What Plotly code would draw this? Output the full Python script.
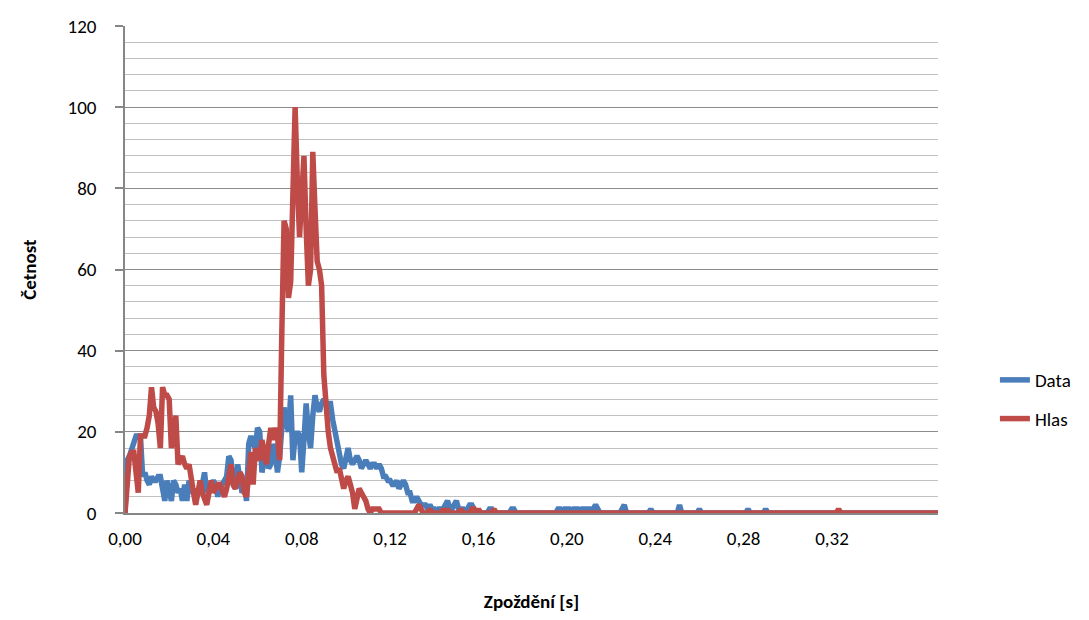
import plotly.graph_objects as go

# Delay categories: 1 ms steps, 0,000 ... 0,368 s
STEP_S = 0.001
N_POINTS = 369
delays = [round(i * STEP_S, 3) for i in range(N_POINTS)]

# Labelled x ticks
x_tick_vals = [0.00, 0.04, 0.08, 0.12, 0.16, 0.20, 0.24, 0.28, 0.32]

# Četnost – "Data"
data_counts = [
    0, 13, 14, 16, 17, 19, 19, 19, 9, 10, 8, 7, 9, 8, 8, 9, 9, 6, 3, 8,
    6, 3, 8, 7, 5, 6, 3, 7, 3, 8, 5, 6, 4, 5, 6, 7, 10, 5, 6, 7,
    8, 7, 4, 7, 7, 8, 9, 14, 13, 7, 6, 12, 9, 5, 7, 3, 17, 19, 17, 16,
    21, 20, 10, 14, 16, 11, 12, 17, 15, 10, 14, 21, 26, 22, 20, 29, 13, 19, 20, 19,
    10, 18, 27, 20, 16, 24, 29, 26, 25, 27, 28, 27, 27, 27, 23, 20, 17, 15, 12, 11,
    13, 16, 13, 12, 13, 14, 13, 11, 12, 13, 12, 11, 12, 12, 11, 12, 11, 9, 9, 8,
    8, 7, 7, 8, 6, 7, 8, 7, 5, 5, 3, 3, 4, 3, 2, 2, 2, 1, 2, 1,
    1, 0, 1, 1, 1, 2, 3, 1, 1, 2, 3, 1, 1, 1, 0, 1, 2, 2, 1, 0,
    0, 0, 0, 0, 0, 1, 1, 0, 0, 0, 0, 0, 0, 0, 0, 1, 1, 0, 0, 0,
    0, 0, 0, 0, 0, 0, 0, 0, 0, 0, 0, 0, 0, 0, 0, 0, 1, 1, 0, 1,
    1, 1, 0, 1, 1, 1, 0, 1, 1, 1, 1, 1, 1, 2, 1, 0, 0, 0, 0, 0,
    0, 0, 0, 0, 0, 1, 2, 0, 0, 0, 0, 0, 0, 0, 0, 0, 0, 0, 1, 0,
    0, 0, 0, 0, 0, 0, 0, 0, 0, 0, 0, 2, 0, 0, 0, 0, 0, 0, 0, 0,
    1, 0, 0, 0, 0, 0, 0, 0, 0, 0, 0, 0, 0, 0, 0, 0, 0, 0, 0, 0,
    0, 0, 1, 0, 0, 0, 0, 0, 0, 0, 1, 0, 0, 0, 0, 0, 0, 0, 0, 0,
    0, 0, 0, 0, 0, 0, 0, 0, 0, 0, 0, 0, 0, 0, 0, 0, 0, 0, 0, 0,
    0, 0, 0, 0, 0, 0, 0, 0, 0, 0, 0, 0, 0, 0, 0, 0, 0, 0, 0, 0,
    0, 0, 0, 0, 0, 0, 0, 0, 0, 0, 0, 0, 0, 0, 0, 0, 0, 0, 0, 0,
    0, 0, 0, 0, 0, 0, 0, 0, 0,
]

# Četnost – "Hlas"
hlas_counts = [
    0, 9, 14, 15, 15, 10, 5, 19, 19, 19, 21, 24, 31, 26, 25, 22, 16, 31, 29, 29,
    28, 16, 19, 24, 12, 13, 14, 12, 11, 12, 7, 5, 2, 6, 8, 5, 3, 2, 5, 8,
    5, 6, 7, 7, 5, 4, 6, 9, 12, 7, 6, 8, 10, 9, 5, 4, 10, 15, 7, 16,
    14, 13, 18, 15, 12, 17, 21, 18, 21, 19, 13, 45, 72, 70, 53, 57, 80, 100, 82, 68,
    78, 88, 70, 56, 60, 89, 75, 62, 60, 56, 34, 24, 20, 16, 14, 12, 10, 11, 8, 6,
    8, 9, 7, 5, 1, 4, 6, 5, 4, 3, 1, 0, 1, 1, 1, 1, 0, 0, 0, 0,
    0, 0, 0, 0, 0, 0, 0, 0, 0, 0, 0, 0, 1, 2, 1, 0, 0, 0, 1, 0,
    0, 0, 0, 0, 1, 0, 1, 0, 0, 0, 0, 0, 1, 0, 0, 0, 0, 1, 1, 0,
    1, 0, 0, 0, 0, 0, 0, 1, 0, 0, 0, 0, 0, 0, 0, 0, 0, 0, 0, 0,
    0, 0, 0, 0, 0, 0, 0, 0, 0, 0, 0, 0, 0, 0, 0, 0, 0, 0, 0, 0,
    0, 0, 0, 0, 0, 0, 0, 0, 0, 0, 0, 0, 0, 0, 0, 0, 0, 0, 0, 0,
    0, 0, 0, 0, 0, 0, 0, 0, 0, 0, 0, 0, 0, 0, 0, 0, 0, 0, 0, 0,
    0, 0, 0, 0, 0, 0, 0, 0, 0, 0, 0, 0, 0, 0, 0, 0, 0, 0, 0, 0,
    0, 0, 0, 0, 0, 0, 0, 0, 0, 0, 0, 0, 0, 0, 0, 0, 0, 0, 0, 0,
    0, 0, 0, 0, 0, 0, 0, 0, 0, 0, 0, 0, 0, 0, 0, 0, 0, 0, 0, 0,
    0, 0, 0, 0, 0, 0, 0, 0, 0, 0, 0, 0, 0, 0, 0, 0, 0, 0, 0, 0,
    0, 0, 0, 1, 0, 0, 0, 0, 0, 0, 0, 0, 0, 0, 0, 0, 0, 0, 0, 0,
    0, 0, 0, 0, 0, 0, 0, 0, 0, 0, 0, 0, 0, 0, 0, 0, 0, 0, 0, 0,
    0, 0, 0, 0, 0, 0, 0, 0, 0,
]

series_names = ["Data", "Hlas"]
series_colors = ["#4A7EBB", "#BE4B48"]
x_title = "Zpoždění [s]"
y_title = "Četnost"

FONT = "Carlito, Calibri, Lato, sans-serif"

fig = go.Figure()
for name, vals, col in zip(series_names, [data_counts, hlas_counts], series_colors):
    fig.add_trace(go.Scatter(
        x=delays, y=vals, mode="lines", name=name, legendgroup=name,
        line=dict(color=col, width=5.5),
    ))

fig.update_layout(
    width=1089, height=620,
    margin=dict(l=125, r=151, t=26, b=107),
    paper_bgcolor="white", plot_bgcolor="white",
    separators=", ",
    font=dict(family=FONT, size=19, color="#000000"),
    showlegend=True,
    legend=dict(
        x=1.07, y=0.233, xanchor="left", yanchor="middle",
        font=dict(size=19), tracegroupgap=11, traceorder="grouped",
        bgcolor="rgba(0,0,0,0)",
    ),
    xaxis=dict(
        range=[0, 0.368], tickmode="array", tickvals=x_tick_vals, tickformat=".2f",
        showgrid=False, zeroline=False, automargin=False,
        showline=True, linecolor="#868686", linewidth=1.5,
        ticks="outside", ticklen=7, tickcolor="rgba(0,0,0,0)",
        tickfont=dict(size=19),
        title=dict(text="<b>" + x_title + "</b>", font=dict(size=19), standoff=46),
    ),
    yaxis=dict(
        range=[0, 120], tick0=0, dtick=20,
        showgrid=True, gridcolor="#8C8C8C", gridwidth=1.2,
        zeroline=False, automargin=False,
        showline=True, linecolor="#868686", linewidth=1.5,
        ticks="outside", ticklen=8, tickcolor="#868686", tickwidth=1.5,
        ticklabelstandoff=15,
        tickfont=dict(size=19),
        minor=dict(dtick=4, showgrid=True, gridcolor="#C0C0C0", gridwidth=1.2, ticks=""),
        title=dict(text="<b>" + y_title + "</b>", font=dict(size=19), standoff=26),
    ),
)

fig.write_html("out.html", config={"displayModeBar": False},
               post_script="document.body.style.margin='0';")
